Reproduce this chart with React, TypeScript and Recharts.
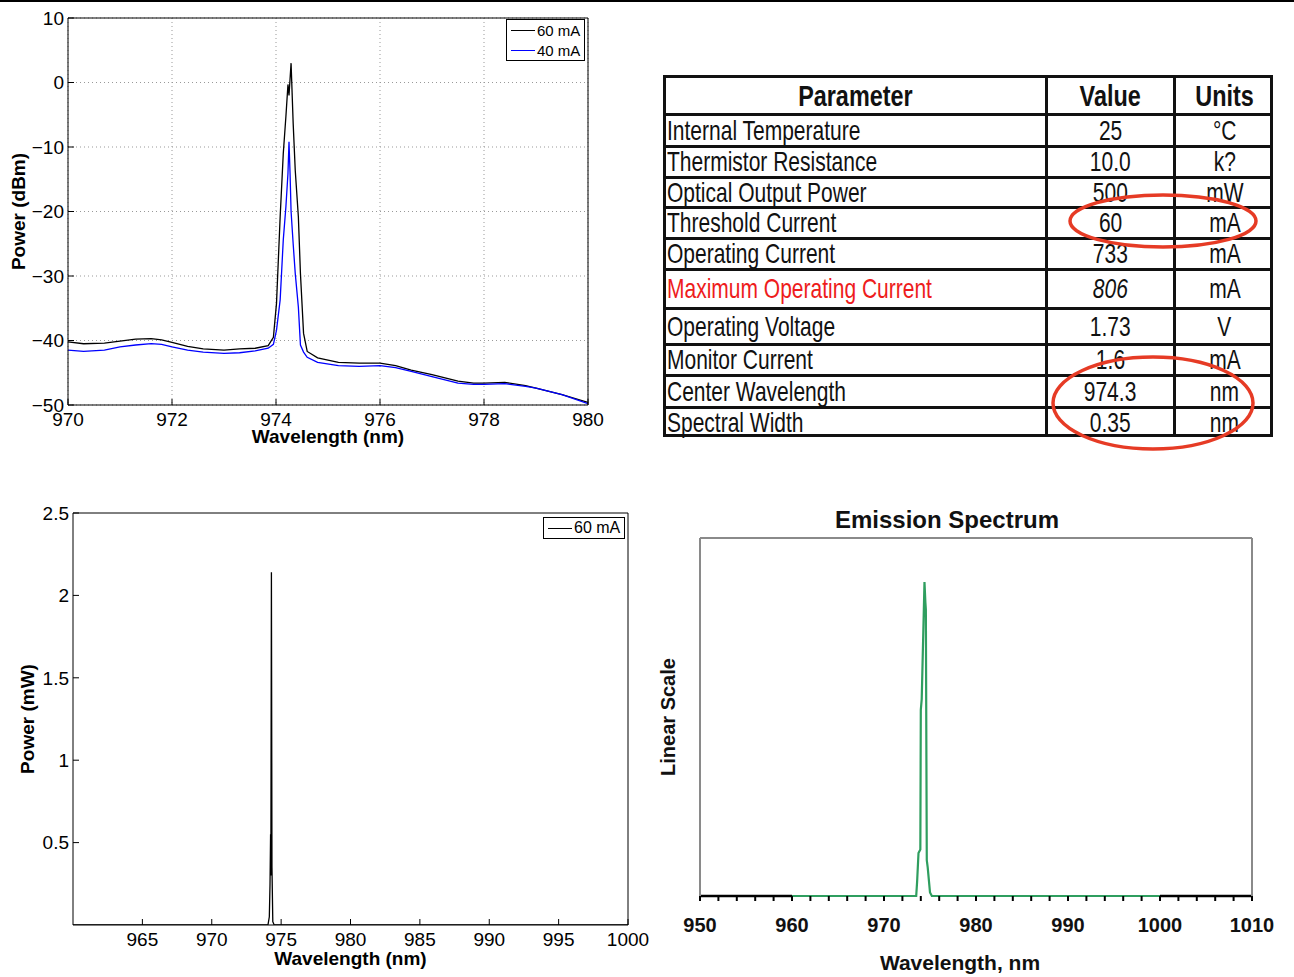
import React from 'react';
import { LineChart, Line, XAxis, YAxis, CartesianGrid, Legend, ReferenceLine } from 'recharts';

// ---- top-left: log-scale spectrum (dBm) ----
const topWavelengths = [
  970.0, 970.3, 970.7, 971.0, 971.3, 971.6, 971.8, 972.0, 972.3, 972.6, 973.0, 973.3, 973.6, 973.85, 973.95,
  974.01, 974.08, 974.14, 974.19, 974.23, 974.25, 974.27, 974.29, 974.33, 974.37, 974.43, 974.47, 974.53, 974.6,
  974.8, 975.2, 975.6, 976.0, 976.3, 976.6, 977.0, 977.5, 977.8, 978.0, 978.4, 978.8, 979.0, 979.5, 980.0,
];
const power60dBm = [
  -40.2, -40.5, -40.4, -40.1, -39.8, -39.7, -39.9, -40.3, -40.9, -41.3, -41.5, -41.3, -41.2, -40.8, -39.5,
  -34.2, -20.8, -11.0, -5.3, -0.3, -2.0, 0.5, 3.0, -6.3, -13.6, -20.8, -29.6, -38.9, -41.7,
  -42.7, -43.4, -43.5, -43.5, -43.9, -44.6, -45.3, -46.3, -46.6, -46.6, -46.5, -47.0, -47.4, -48.4, -49.6,
];
const power40dBm = [
  -41.5, -41.7, -41.5, -41.0, -40.7, -40.5, -40.6, -41.0, -41.5, -41.8, -42.0, -41.9, -41.6, -41.2, -40.6,
  -38.4, -33.7, -24.4, -19.3, -14.1, -9.2, -14.0, -20.0, -25.0, -29.6, -34.8, -40.7, -41.8, -42.6,
  -43.4, -43.9, -44.0, -43.9, -44.2, -44.8, -45.6, -46.6, -46.8, -46.8, -46.7, -47.1, -47.4, -48.4, -49.8,
];
const topSeries = ['60 mA', '40 mA'];
const topXTicks = [970, 972, 974, 976, 978, 980];
const topYTicks = [-50, -40, -30, -20, -10, 0, 10];

// ---- bottom-left: linear spectrum (mW) ----
const linWavelengths = [960, 974.05, 974.15, 974.2, 974.24, 974.26, 974.3, 974.34, 974.4, 974.5, 1000];
const linPower60 = [0, 0, 0.05, 0.25, 0.55, 0.3, 2.14, 0.35, 0.02, 0, 0];
const linXTicks = [965, 970, 975, 980, 985, 990, 995, 1000];
const linYTicks = [0.5, 1, 1.5, 2, 2.5];

// ---- bottom-right: emission spectrum ----
const emissionWavelengths = [960, 973.5, 973.6, 973.75, 973.95, 974.0, 974.1, 974.4, 974.5, 974.55, 974.65, 974.75, 975.0, 975.2, 1000];
const emissionLevel = [0, 0, 0.04, 0.12, 0.13, 0.52, 0.55, 0.877, 0.82, 0.8, 0.1, 0.08, 0.01, 0, 0];
const emissionTicks = [
  950, 952, 954, 956, 958, 960, 962, 964, 966, 968, 970, 972, 974, 976, 978, 980,
  982, 984, 986, 988, 990, 992, 994, 996, 998, 1000, 1002, 1004, 1006, 1008, 1010,
];

// ---- spec table ----
const tableHeader = ['Parameter', 'Value', 'Units'];
const tableParams = [
  'Internal Temperature', 'Thermistor Resistance', 'Optical Output Power', 'Threshold Current', 'Operating Current',
  'Maximum Operating Current', 'Operating Voltage', 'Monitor Current', 'Center Wavelength', 'Spectral Width',
];
const tableValues = ['25', '10.0', '500', '60', '733', '806', '1.73', '1.6', '974.3', '0.35'];
const tableUnits = ['°C', 'k?', 'mW', 'mA', 'mA', 'mA', 'V', 'mA', 'nm', 'nm'];

const FONT = '"Liberation Sans", Arial, Helvetica, sans-serif';

const topData = topWavelengths.map((wl, i) => ({ wl, ma60: power60dBm[i], ma40: power40dBm[i] }));
const linData = linWavelengths.map((wl, i) => ({ wl, ma60: linPower60[i] }));
const emissionData = emissionWavelengths.map((wl, i) => ({ wl, level: emissionLevel[i] }));

const matlabNum = (v: number) => String(v).replace('-', '\u2212');

const BoxLegend = (props: any) => {
  const { payload, fontSize, rowH, order } = props;
  const items = [...(payload || [])].sort((a: any, b: any) => order.indexOf(a.value) - order.indexOf(b.value));
  return (
    <div style={{ border: '1px solid #000', background: '#fff', padding: '0 4px', fontFamily: FONT, fontSize, color: '#000' }}>
      {items.map((p: any) => (
        <div key={p.value} style={{ display: 'flex', alignItems: 'center', height: rowH }}>
          <span style={{ display: 'inline-block', width: 24, borderTop: `1px solid ${p.color}`, marginRight: 2 }} />
          <span>{p.value}</span>
        </div>
      ))}
    </div>
  );
};

const tickStyle = { fill: '#000', fontSize: 19, fontFamily: FONT };
const axisTitle = { fill: '#000', fontSize: 19, fontWeight: 'bold', fontFamily: FONT };

const TopSpectrum = () => (
  <LineChart width={630} height={450} data={topData} margin={{ top: 17, right: 41, left: 8, bottom: 27 }}>
    <CartesianGrid stroke="#999" strokeDasharray="1 3" />
    <XAxis dataKey="wl" type="number" domain={[970, 980]} ticks={topXTicks} allowDataOverflow
      height={18} tickSize={-6} tickMargin={14} stroke="#000" tick={tickStyle}
      label={{ value: 'Wavelength (nm)', position: 'bottom', offset: 7, ...axisTitle }} />
    <XAxis xAxisId="top" orientation="top" type="number" domain={[970, 980]} ticks={topXTicks}
      height={1} tickSize={-6} tick={false} stroke="#000" />
    <YAxis type="number" domain={[-50, 10]} ticks={topYTicks} allowDataOverflow width={60}
      tickSize={-6} tickMargin={10} stroke="#000" tick={tickStyle} tickFormatter={matlabNum}
      label={{ value: 'Power (dBm)', angle: -90, position: 'center', dx: -20, ...axisTitle }} />
    <YAxis yAxisId="right" orientation="right" type="number" domain={[-50, 10]} ticks={topYTicks}
      width={1} tickSize={-6} tick={false} stroke="#000" />
    <Legend layout="horizontal" verticalAlign="middle" align="center"
      wrapperStyle={{ left: 506, top: 19, width: 'auto', height: 'auto' }}
      content={(p: any) => <BoxLegend {...p} fontSize={15} rowH={20} order={topSeries} />} />
    <Line dataKey="ma60" name={topSeries[0]} type="linear" stroke="#000" strokeWidth={1.3} dot={false} isAnimationActive={false} />
    <Line dataKey="ma40" name={topSeries[1]} type="linear" stroke="#0000ff" strokeWidth={1.3} dot={false} isAnimationActive={false} />
  </LineChart>
);

const LinearSpectrum = () => (
  <LineChart width={660} height={487} data={linData} margin={{ top: 22, right: 31, left: 8, bottom: 34 }}>
    <XAxis dataKey="wl" type="number" domain={[960, 1000]} ticks={linXTicks} allowDataOverflow
      height={18} tickSize={-6} tickMargin={14} stroke="#000" tick={tickStyle}
      label={{ value: 'Wavelength (nm)', position: 'bottom', offset: 9, ...axisTitle }} />
    <XAxis xAxisId="top" orientation="top" type="number" domain={[960, 1000]} ticks={linXTicks}
      height={1} tickSize={-6} tick={false} stroke="#000" />
    <YAxis type="number" domain={[0, 2.5]} ticks={linYTicks} allowDataOverflow width={65}
      tickSize={-6} tickMargin={10} stroke="#000" tick={tickStyle}
      label={{ value: 'Power (mW)', angle: -90, position: 'center', dx: -13, ...axisTitle }} />
    <YAxis yAxisId="right" orientation="right" type="number" domain={[0, 2.5]} ticks={linYTicks}
      width={1} tickSize={-6} tick={false} stroke="#000" />
    <Legend layout="horizontal" verticalAlign="middle" align="center"
      wrapperStyle={{ left: 543, top: 27, width: 'auto', height: 'auto' }}
      content={(p: any) => <BoxLegend {...p} fontSize={16} rowH={20} order={['60 mA']} />} />
    <Line dataKey="ma60" name="60 mA" type="linear" stroke="#000" strokeWidth={1.3} dot={false} isAnimationActive={false} />
  </LineChart>
);

const EmissionSpectrum = () => (
  <LineChart width={644} height={477} data={emissionData} margin={{ top: 37, right: 41, left: 0, bottom: 36 }}>
    <XAxis xAxisId="top" orientation="top" type="number" domain={[950, 1010]} height={1}
      tick={false} tickLine={false} stroke="#8a8a8a" strokeWidth={2}
      label={{ value: 'Emission Spectrum', position: 'top', offset: 9, dx: -29, fill: '#111', fontSize: 24, fontWeight: 'bold', fontFamily: FONT }} />
    <YAxis type="number" domain={[0, 1]} width={50} tick={false} tickLine={false} stroke="#8a8a8a" strokeWidth={2}
      label={{ value: 'Linear Scale', angle: -90, position: 'center', dx: -7, fill: '#111', fontSize: 20, fontWeight: 'bold', fontFamily: FONT }} />
    <YAxis yAxisId="right" orientation="right" type="number" domain={[0, 1]} width={1}
      tick={false} tickLine={false} stroke="#8a8a8a" strokeWidth={2} />
    <XAxis dataKey="wl" type="number" domain={[950, 1010]} ticks={emissionTicks} interval={0}
      height={45} tickSize={5} tickMargin={17} axisLine={false} tickLine={{ stroke: '#000', strokeWidth: 2 }}
      tickFormatter={(v: number) => (v % 10 === 0 ? String(v) : '')}
      tick={{ fill: '#111', fontSize: 20, fontWeight: 'bold', fontFamily: FONT }}
      label={{ value: 'Wavelength, nm', position: 'bottom', offset: 14, dx: -16, fill: '#111', fontSize: 21, fontWeight: 'bold', fontFamily: FONT }} />
    <ReferenceLine segment={[{ x: 950, y: 0 }, { x: 960, y: 0 }]} stroke="#000" strokeWidth={2.5} ifOverflow="visible" />
    <ReferenceLine segment={[{ x: 1000, y: 0 }, { x: 1010, y: 0 }]} stroke="#000" strokeWidth={2.5} ifOverflow="visible" />
    <Line dataKey="level" type="linear" stroke="#2f9e5f" strokeWidth={2.2} dot={false} isAnimationActive={false} />
  </LineChart>
);

const rowEdges = [75, 113, 145, 176, 206, 237, 268, 307, 343, 374, 406, 437];
const colEdges = [663, 1045, 1173, 1273];

const SpecTable = () => {
  const left = colEdges[0];
  const top = rowEdges[0];
  const w = colEdges[3] - left;
  const h = rowEdges[rowEdges.length - 1] - top;
  const rows = [tableHeader, ...tableParams.map((p, i) => [p, tableValues[i], tableUnits[i]])];
  return (
    <div style={{ position: 'absolute', left, top, width: w, height: h, border: '3px solid #111', boxSizing: 'border-box', background: '#fff' }}>
      {rowEdges.slice(1, -1).map((e) => (
        <div key={'r' + e} style={{ position: 'absolute', left: 0, right: 0, top: e - top - 3, height: 3, background: '#111' }} />
      ))}
      {colEdges.slice(1, -1).map((e) => (
        <div key={'c' + e} style={{ position: 'absolute', top: 0, bottom: 0, left: e - left - 3, width: 3, background: '#111' }} />
      ))}
      {rows.map((r, ri) =>
        r.map((txt, ci) => {
          const header = ri === 0;
          const leftAligned = ci === 0 && !header;
          return (
            <div key={ri + '-' + ci} style={{
              position: 'absolute',
              left: colEdges[ci] - left + (leftAligned ? 1 : 0),
              width: colEdges[ci + 1] - colEdges[ci] - 3,
              top: rowEdges[ri] - top,
              height: rowEdges[ri + 1] - rowEdges[ri] - 3,
              display: 'flex', alignItems: 'center',
              justifyContent: leftAligned ? 'flex-start' : 'center',
            }}>
              <span style={{
                display: 'inline-block', transform: header ? 'scaleX(0.78)' : 'scaleX(0.75)',
                transformOrigin: leftAligned ? 'left center' : 'center center',
                fontFamily: FONT, fontSize: header ? 30 : 28, fontWeight: header ? 'bold' : 'normal',
                fontStyle: ri === 6 && ci === 1 ? 'italic' : 'normal',
                color: ri === 6 && ci === 0 ? '#ee1c1c' : '#111', whiteSpace: 'nowrap', lineHeight: 1,
              }}>{txt}</span>
            </div>
          );
        })
      )}
    </div>
  );
};

export default function App() {
  return (
    <div style={{ position: 'absolute', left: 0, top: 0, width: 1294, height: 977, background: '#fff', overflow: 'hidden' }}>
      <div style={{ position: 'absolute', left: 0, top: 0, width: 1294, height: 2, background: '#000' }} />
      <div style={{ position: 'absolute', left: 0, top: 0 }}><TopSpectrum /></div>
      <div style={{ position: 'absolute', left: 0, top: 490 }}><LinearSpectrum /></div>
      <div style={{ position: 'absolute', left: 650, top: 500 }}><EmissionSpectrum /></div>
      <SpecTable />
      <svg width={1294} height={977} style={{ position: 'absolute', left: 0, top: 0, pointerEvents: 'none' }}>
        <ellipse cx={1163} cy={221} rx={93} ry={26} fill="none" stroke="#e63b25" strokeWidth={3.5} />
        <ellipse cx={1153} cy={403} rx={100} ry={46} fill="none" stroke="#e63b25" strokeWidth={3.5} />
      </svg>
    </div>
  );
}
